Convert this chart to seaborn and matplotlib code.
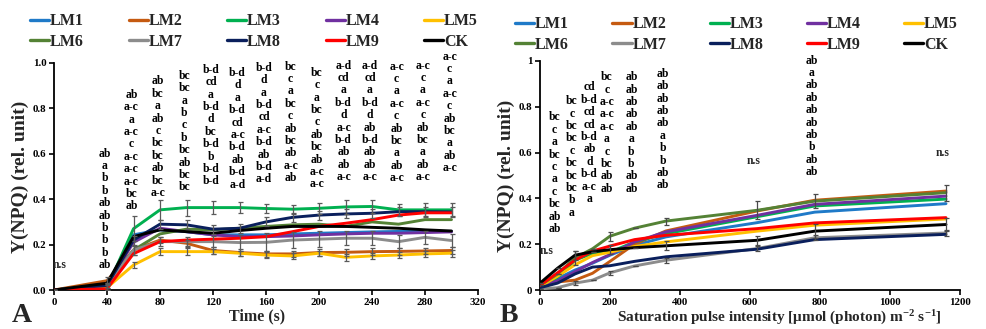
import numpy as np
import pandas as pd
import matplotlib
matplotlib.use("Agg")
import matplotlib.pyplot as plt
from matplotlib import transforms
from matplotlib.lines import Line2D
import seaborn as sns

# ---------------- data ----------------
series = ["LM1", "LM2", "LM3", "LM4", "LM5", "LM6", "LM7", "LM8", "LM9", "CK"]
colors = ["#1F7AC8", "#C55A11", "#00B050", "#7030A0", "#FFC000",
          "#548235", "#8C8C8C", "#0A1F5C", "#FF0000", "#000000"]

# Panel A: time course
time_s = [0, 40, 60, 80, 100, 120, 140, 160, 180, 200, 220, 240, 260, 280, 300]
A_LM1 = [0, 0.020, 0.243, 0.265, 0.257, 0.243, 0.243, 0.243, 0.247, 0.250, 0.253, 0.256, 0.258, 0.258, 0.258]
A_LM2 = [0, 0.041, 0.176, 0.220, 0.206, 0.174, 0.165, 0.159, 0.159, 0.165, 0.166, 0.169, 0.170, 0.172, 0.174]
A_LM3 = [0, 0.010, 0.270, 0.353, 0.363, 0.363, 0.363, 0.359, 0.356, 0.360, 0.366, 0.368, 0.353, 0.353, 0.353]
A_LM4 = [0, 0.020, 0.210, 0.272, 0.257, 0.243, 0.235, 0.235, 0.238, 0.243, 0.247, 0.250, 0.250, 0.253, 0.256]
A_LM5 = [0, 0.010, 0.110, 0.169, 0.169, 0.169, 0.162, 0.154, 0.150, 0.162, 0.144, 0.150, 0.154, 0.159, 0.162]
A_LM6 = [0, 0.020, 0.176, 0.247, 0.268, 0.265, 0.272, 0.280, 0.287, 0.290, 0.280, 0.300, 0.290, 0.310, 0.310]
A_LM7 = [0, 0.020, 0.176, 0.213, 0.213, 0.213, 0.209, 0.210, 0.220, 0.224, 0.228, 0.228, 0.213, 0.232, 0.218]
A_LM8 = [0, 0.020, 0.220, 0.290, 0.287, 0.268, 0.272, 0.300, 0.320, 0.330, 0.335, 0.338, 0.345, 0.345, 0.344]
A_LM9 = [0, 0.005, 0.160, 0.213, 0.220, 0.224, 0.228, 0.235, 0.257, 0.280, 0.294, 0.310, 0.330, 0.340, 0.340]
A_CK  = [0, 0.030, 0.235, 0.265, 0.257, 0.250, 0.262, 0.272, 0.280, 0.280, 0.280, 0.276, 0.272, 0.265, 0.260]

# Panel A error bars (shown for some series)
errA = {
    "LM3": [0, 0.010, 0.055, 0.045, 0.035, 0.030, 0.025, 0.020, 0.020, 0.025, 0.030, 0.030, 0.025, 0.030, 0.030],
    "LM7": [0, 0.010, 0.020, 0.020, 0.020, 0.025, 0.035, 0.040, 0.035, 0.035, 0.030, 0.030, 0.030, 0.030, 0.030],
    "LM5": [0, 0.010, 0.015, 0.015, 0.015, 0.012, 0.012, 0.012, 0.012, 0.012, 0.015, 0.015, 0.015, 0.015, 0.015],
    "LM8": [0, 0.010, 0.020, 0.020, 0.020, 0.020, 0.020, 0.020, 0.020, 0.020, 0.020, 0.020, 0.020, 0.020, 0.020],
    "LM2": [0, 0.015, 0.020, 0.015, 0.015, 0.015, 0.015, 0.015, 0.015, 0.015, 0.015, 0.015, 0.015, 0.015, 0.015],
}

# Panel B: light response
par = [0, 50, 100, 150, 200, 270, 360, 620, 785, 1160]
B_LM1 = [0.020, 0.050, 0.087, 0.117, 0.152, 0.195, 0.232, 0.294, 0.340, 0.377]
B_LM2 = [0.010, 0.035, 0.043, 0.073, 0.125, 0.200, 0.258, 0.345, 0.392, 0.432]
B_LM3 = [0.015, 0.055, 0.130, 0.160, 0.165, 0.210, 0.246, 0.320, 0.367, 0.397]
B_LM4 = [0.015, 0.040, 0.080, 0.120, 0.155, 0.210, 0.254, 0.326, 0.374, 0.410]
B_LM5 = [0.015, 0.060, 0.110, 0.150, 0.165, 0.190, 0.210, 0.257, 0.283, 0.310]
B_LM6 = [0.020, 0.070, 0.140, 0.180, 0.235, 0.270, 0.301, 0.348, 0.388, 0.425]
B_LM7 = [0.005, 0.010, 0.030, 0.043, 0.075, 0.105, 0.130, 0.181, 0.228, 0.249]
B_LM8 = [0.010, 0.030, 0.070, 0.100, 0.106, 0.125, 0.145, 0.178, 0.220, 0.243]
B_LM9 = [0.020, 0.075, 0.130, 0.170, 0.192, 0.220, 0.239, 0.268, 0.293, 0.316]
B_CK  = [0.030, 0.095, 0.152, 0.167, 0.176, 0.185, 0.193, 0.217, 0.257, 0.286]

errB = {
    "LM6": [0, 0, 0.030, 0, 0.020, 0, 0.015, 0.040, 0.030, 0.035],
    "LM7": [0, 0, 0.010, 0, 0.010, 0, 0.010, 0.010, 0.010, 0.015],
    "CK":  [0, 0, 0.020, 0, 0.020, 0, 0.020, 0.020, 0.030, 0.030],
}

# significance letters (top to bottom) for each measuring point
sigA_x = [40, 60, 80, 100, 120, 140, 160, 180, 200, 220, 240, 260, 280, 300]
sigA = [
    ["ab", "a", "b", "b", "ab", "ab", "b", "b", "b", "ab"],
    ["ab", "a-c", "a", "a-c", "c", "a-c", "a-c", "a-c", "bc", "ab"],
    ["ab", "bc", "a", "ab", "c", "bc", "bc", "ab", "bc", "a-c"],
    ["bc", "bc", "a", "b", "c", "b", "bc", "ab", "bc", "bc"],
    ["b-d", "cd", "a", "b-d", "d", "bc", "b-d", "b", "b-d", "b-d"],
    ["b-d", "d", "a", "b-d", "cd", "a-c", "b-d", "ab", "b-d", "a-d"],
    ["b-d", "d", "a", "b-d", "cd", "a-c", "b-d", "ab", "b-d", "a-d"],
    ["bc", "c", "a", "bc", "c", "ab", "bc", "ab", "a-c", "ab"],
    ["bc", "c", "a", "bc", "c", "ab", "bc", "ab", "a-c", "a-c"],
    ["a-d", "cd", "a", "b-d", "d", "a-c", "b-d", "ab", "ab", "a-c"],
    ["a-d", "cd", "a", "b-d", "d", "ab", "b-d", "ab", "ab", "a-c"],
    ["a-c", "c", "a", "a-c", "c", "ab", "bc", "a", "ab", "a-c"],
    ["a-c", "c", "a", "a-c", "c", "ab", "bc", "a", "ab", "a-c"],
    ["a-c", "c", "a", "a-c", "c", "ab", "bc", "a", "ab", "a-c"],
]
sigB_x = [50, 100, 150, 200, 270, 360, 785]
sigB = [
    ["bc", "c", "a", "bc", "c", "a", "c", "bc", "ab", "ab"],
    ["bc", "c", "bc", "bc", "c", "bc", "bc", "bc", "b", "a"],
    ["cd", "b-d", "cd", "cd", "b-d", "ab", "d", "b-d", "a-c", "a"],
    ["bc", "c", "a-c", "a-c", "a-c", "a", "c", "bc", "ab", "ab"],
    ["ab", "ab", "ab", "ab", "ab", "a", "b", "b", "ab", "ab"],
    ["ab", "ab", "ab", "ab", "ab", "a", "b", "b", "ab", "ab"],
    ["ab", "a", "ab", "ab", "ab", "ab", "ab", "b", "ab", "ab"],
]
nsB_x = [0, 620, 1160]

# ---------------- layout (text placement, not data) ----------------
sigA_top = [0.588, 0.847, 0.906, 0.930, 0.957, 0.943, 0.966, 0.971, 0.944, 0.975, 0.975, 0.971, 0.975, 1.015]
sigB_top = [0.741, 0.811, 0.872, 0.916, 0.916, 0.931, 0.989]
nsB_y = [0.159, 0.552, 0.587]
LINE_PX = 12.4

# ---------------- style ----------------
sns.set_theme(style="white")
plt.rcParams["font.family"] = ["Liberation Serif", "DejaVu Serif"]
plt.rcParams["font.weight"] = "bold"
plt.rcParams["axes.labelweight"] = "bold"
plt.rcParams["mathtext.fontset"] = "custom"
plt.rcParams["mathtext.rm"] = "Liberation Serif:bold"
plt.rcParams["mathtext.default"] = "rm"

fig = plt.figure(figsize=(9.86, 3.29), dpi=100)
axA = fig.add_axes([54 / 986, 39 / 329, 424 / 986, 227 / 329])
axB = fig.add_axes([540 / 986, 39 / 329, 420 / 986, 229 / 329])

palette = dict(zip(series, colors))

A_vals = [A_LM1, A_LM2, A_LM3, A_LM4, A_LM5, A_LM6, A_LM7, A_LM8, A_LM9, A_CK]
B_vals = [B_LM1, B_LM2, B_LM3, B_LM4, B_LM5, B_LM6, B_LM7, B_LM8, B_LM9, B_CK]

dfA = pd.DataFrame([(t, v, s) for s, vals in zip(series, A_vals) for t, v in zip(time_s, vals)],
                   columns=["x", "y", "series"])
dfB = pd.DataFrame([(t, v, s) for s, vals in zip(series, B_vals) for t, v in zip(par, vals)],
                   columns=["x", "y", "series"])

for ax, df in ((axA, dfA), (axB, dfB)):
    sns.lineplot(data=df, x="x", y="y", hue="series", hue_order=series, palette=palette,
                 linewidth=2.1, legend=False, errorbar=None, ax=ax, zorder=3)

for s, e in errA.items():
    y = A_vals[series.index(s)]
    axA.errorbar(time_s, y, yerr=e, fmt="none", ecolor="#5a5a5a", elinewidth=0.9,
                 capsize=1.8, capthick=0.9, zorder=4)
for s, e in errB.items():
    y = B_vals[series.index(s)]
    axB.errorbar(par, y, yerr=e, fmt="none", ecolor="#4a4a4a", elinewidth=0.9,
                 capsize=1.8, capthick=0.9, zorder=4)

# axes cosmetics
for ax in (axA, axB):
    for sp in ("top", "right"):
        ax.spines[sp].set_visible(False)
    for sp in ("left", "bottom"):
        ax.spines[sp].set_color("black")
        ax.spines[sp].set_linewidth(1.3)
    ax.tick_params(axis="both", direction="out", length=3.5, width=1.2, colors="black",
                   labelsize=7.8, pad=2, bottom=True, left=True)
    ax.set_ylim(0, 1)
    ax.set_yticks([0, 0.2, 0.4, 0.6, 0.8, 1.0])
    ax.set_ylabel("Y(NPQ) (rel. unit)", fontsize=14, fontweight="bold", labelpad=3)

axA.set_xlim(0, 320)
axA.set_xticks(range(0, 321, 40))
axA.set_yticklabels(["0.0", "0.2", "0.4", "0.6", "0.8", "1.0"])
axA.set_xlabel("Time (s)", fontsize=11.5, fontweight="bold", labelpad=3)
axA.xaxis.set_label_coords(0.48, -0.08)
axA.xaxis.label.set_va("top")

axB.set_xlim(0, 1200)
axB.set_xticks(range(0, 1201, 200))
axB.set_yticklabels(["0", "0.2", "0.4", "0.6", "0.8", "1"])
axB.set_xlabel("Saturation pulse intensity [μmol (photon) m$^{-2}$ s$^{-1}$]",
               fontsize=11, fontweight="bold", labelpad=3)
axB.xaxis.set_label_coords(0.571, -0.08)
axB.xaxis.label.set_va("top")
for ax in (axA, axB):
    for lab in ax.get_xticklabels() + ax.get_yticklabels():
        lab.set_fontweight("bold")

# significance letters
def put_column(ax, x, top, labels, dx=-2):
    for j, s in enumerate(labels):
        tr = transforms.offset_copy(ax.transData, fig=fig, x=dx, y=-j * LINE_PX, units="dots")
        ax.text(x, top, s, transform=tr, ha="center", va="baseline",
                fontsize=8.4, fontweight="bold", color="black", clip_on=False)

for x, top, labs in zip(sigA_x, sigA_top, sigA):
    put_column(axA, x, top, labs)
for x, top, labs in zip(sigB_x, sigB_top, sigB):
    put_column(axB, x, top, labs, dx=-3)

trA = transforms.offset_copy(axA.transData, fig=fig, x=-1.5, y=0, units="dots")
axA.text(0, 0.095, "n.s", transform=trA, ha="left", va="baseline", fontsize=8.4, fontweight="bold")
for i, (x, y) in enumerate(zip(nsB_x, nsB_y)):
    if i == 0:
        axB.text(x, y, "n.s", ha="left", va="baseline", fontsize=8.4, fontweight="bold")
    else:
        trB = transforms.offset_copy(axB.transData, fig=fig, x=-3, y=0, units="dots")
        axB.text(x, y, "n.s", transform=trB, ha="center", va="baseline", fontsize=8.4, fontweight="bold")

# legends (row-major order with 5 columns)
order = [0, 5, 1, 6, 2, 7, 3, 8, 4, 9]
handles = [Line2D([0], [0], color=colors[i], lw=2.4) for i in order]
labels = [series[i] for i in order]
for ax, (x0, x1, y0, y1) in ((axA, (30, 478, 3, 50)), (axB, (515, 958, 8, 53))):
    ax.legend(handles, labels, ncol=5, mode="expand", frameon=False,
              loc="lower left",
              bbox_to_anchor=(x0 / 986, 1 - y1 / 329, (x1 - x0) / 986, (y1 - y0) / 329),
              bbox_transform=fig.transFigure,
              prop={"family": "Liberation Serif", "weight": "bold", "size": 11.5},
              handlelength=1.2, handletextpad=0.05, borderpad=0, borderaxespad=0,
              labelspacing=0.3)

# panel letters
fig.text(12 / 986, 1 - 322 / 329, "A", fontsize=20, fontweight="bold", ha="left", va="baseline")
fig.text(500 / 986, 1 - 322 / 329, "B", fontsize=20, fontweight="bold", ha="left", va="baseline")

fig.savefig("out.png", dpi=100)
